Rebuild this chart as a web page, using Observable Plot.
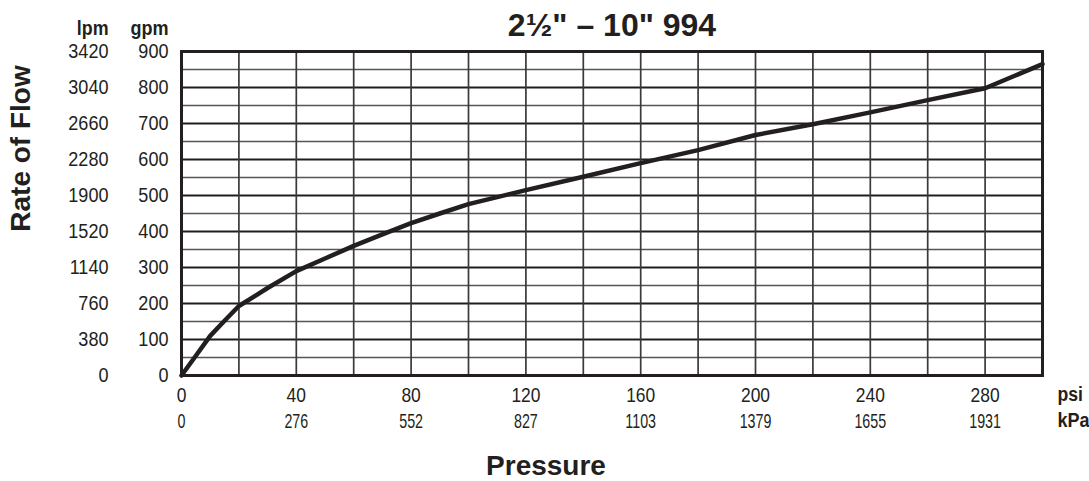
<!DOCTYPE html>
<html><head><meta charset="utf-8">
<script src="https://cdn.jsdelivr.net/npm/d3@7"></script>
<script src="https://cdn.jsdelivr.net/npm/@observablehq/plot@0.6"></script>
<style>html,body{margin:0;padding:0;background:#fff;overflow:hidden}</style>
</head><body><div id="chart"></div>
<script>
// Pressure (psi) and rate of flow (gpm)
const psi = [0, 5, 10, 15, 20, 30, 40, 50, 60, 70, 80, 90, 100, 120, 140, 160, 180, 200, 220, 240, 260, 280, 300];
const gpm = [0, 55, 110, 152, 193, 243, 290, 325, 360, 392, 423, 450, 476, 515, 552, 590, 626, 668, 698, 731, 765, 798, 865];

const psiTicks = [0, 40, 80, 120, 160, 200, 240, 280];
const kpaLabels = ["0", "276", "552", "827", "1103", "1379", "1655", "1931"];
const gpmTicks = [0, 100, 200, 300, 400, 500, 600, 700, 800, 900];
const lpmLabels = ["0", "380", "760", "1140", "1520", "1900", "2280", "2660", "3040", "3420"];

const title = "2\u00BD\" \u2013 10\" 994";
const xTitle = "Pressure";
const yTitle = "Rate of Flow";

const curve = psi.map((p, i) => ({psi: p, gpm: gpm[i]}));
const ink = "#231f20";
const font = "'Liberation Sans', Arial, Helvetica, sans-serif";

const chart = Plot.plot({
  width: 1089, height: 481,
  marginLeft: 181, marginRight: 47, marginTop: 51, marginBottom: 106,
  style: {fontFamily: font, background: "#fff", color: ink, overflow: "visible"},
  x: {domain: [0, 300]},
  y: {domain: [0, 900]},
  marks: [
    Plot.ruleY(d3.range(50, 900, 100), {stroke: "#555", strokeWidth: 1.3}),
    Plot.ruleY(d3.range(100, 900, 100), {stroke: "#1e1e1e", strokeWidth: 2.2}),
    Plot.ruleX(d3.range(20, 300, 20), {stroke: "#3a3a3a", strokeWidth: 1.7}),
    Plot.frame({stroke: ink, strokeWidth: 3}),
    Plot.line(curve, {x: "psi", y: "gpm", stroke: ink, strokeWidth: 4.5, strokeLinejoin: "round", strokeLinecap: "round"}),
    Plot.axisY(gpmTicks, {tickSize: 0, tickPadding: 13, fontSize: 21, label: null, fill: ink, tickFormat: d => String(d)}),
    Plot.axisY(gpmTicks, {tickSize: 0, tickPadding: 73, fontSize: 21, label: null, fill: ink, tickFormat: d => lpmLabels[gpmTicks.indexOf(d)]}),
    Plot.axisX(psiTicks, {tickSize: 0, tickPadding: 12, fontSize: 21, label: null, fill: ink, tickFormat: d => String(d)}),
    Plot.text(psiTicks, {x: d => d, text: d => kpaLabels[psiTicks.indexOf(d)], frameAnchor: "bottom", lineAnchor: "middle", dy: 46, fontSize: 21, fill: ink}),
    Plot.text(["lpm"], {text: d => d, frameAnchor: "top-left", lineAnchor: "middle", dx: -73, dy: -23, textAnchor: "end", fontSize: 21, fontWeight: "bold", fill: ink}),
    Plot.text(["gpm"], {text: d => d, frameAnchor: "top-left", lineAnchor: "middle", dx: -13, dy: -23, textAnchor: "end", fontSize: 21, fontWeight: "bold", fill: ink}),
    Plot.text(["psi"], {text: d => d, frameAnchor: "bottom-right", lineAnchor: "middle", dx: 15, dy: 19, textAnchor: "start", fontSize: 21, fontWeight: "bold", fill: ink}),
    Plot.text(["kPa"], {text: d => d, frameAnchor: "bottom-right", lineAnchor: "middle", dx: 15, dy: 45, textAnchor: "start", fontSize: 21, fontWeight: "bold", fill: ink}),
    Plot.text([title], {text: d => d, frameAnchor: "top", lineAnchor: "middle", dy: -26, fontSize: 32, fontWeight: "bold", fill: ink}),
    Plot.text([xTitle], {text: d => d, frameAnchor: "bottom", lineAnchor: "middle", dx: -66, dy: 91, fontSize: 28, fontWeight: "bold", fill: ink}),
    Plot.text([yTitle], {text: d => d, frameAnchor: "left", textAnchor: "middle", lineAnchor: "middle", dx: -160, dy: -65, rotate: -90, fontSize: 28, fontWeight: "bold", fill: ink})
  ]
});
document.getElementById("chart").appendChild(chart);

// The reference uses a condensed sans: narrow the small labels horizontally about their anchor.
const narrowBy = new Map([
  ...gpmTicks.map(d => [String(d), 0.86]),
  ...lpmLabels.map(d => [d, 0.86]),
  ["lpm", 0.85], ["gpm", 0.86], ["psi", 0.84], ["kPa", 0.86]
]);
const psiSet = new Set(psiTicks.map(String));
chart.querySelectorAll("text").forEach(t => {
  const g = t.closest("g[aria-label]");
  const label = g ? g.getAttribute("aria-label") : "";
  const s = t.textContent;
  let k = null;
  if (label === "x-axis tick label" && psiSet.has(s)) k = 0.83;
  else if (label === "y-axis tick label") k = 0.86;
  else if (label === "text" || label === "") {
    if (kpaLabels.includes(s) && !["lpm", "gpm", "psi", "kPa"].includes(s)) k = 0.68;
    if (narrowBy.has(s) && ["lpm", "gpm", "psi", "kPa"].includes(s)) k = narrowBy.get(s);
  }
  if (k == null) return;
  const tr = t.getAttribute("transform");
  if (tr) t.setAttribute("transform", tr + ` scale(${k},1)`);
  else {
    const x = +t.getAttribute("x") || 0;
    t.setAttribute("transform", `translate(${x},0) scale(${k},1) translate(${-x},0)`);
  }
});
</script>
</body></html>
